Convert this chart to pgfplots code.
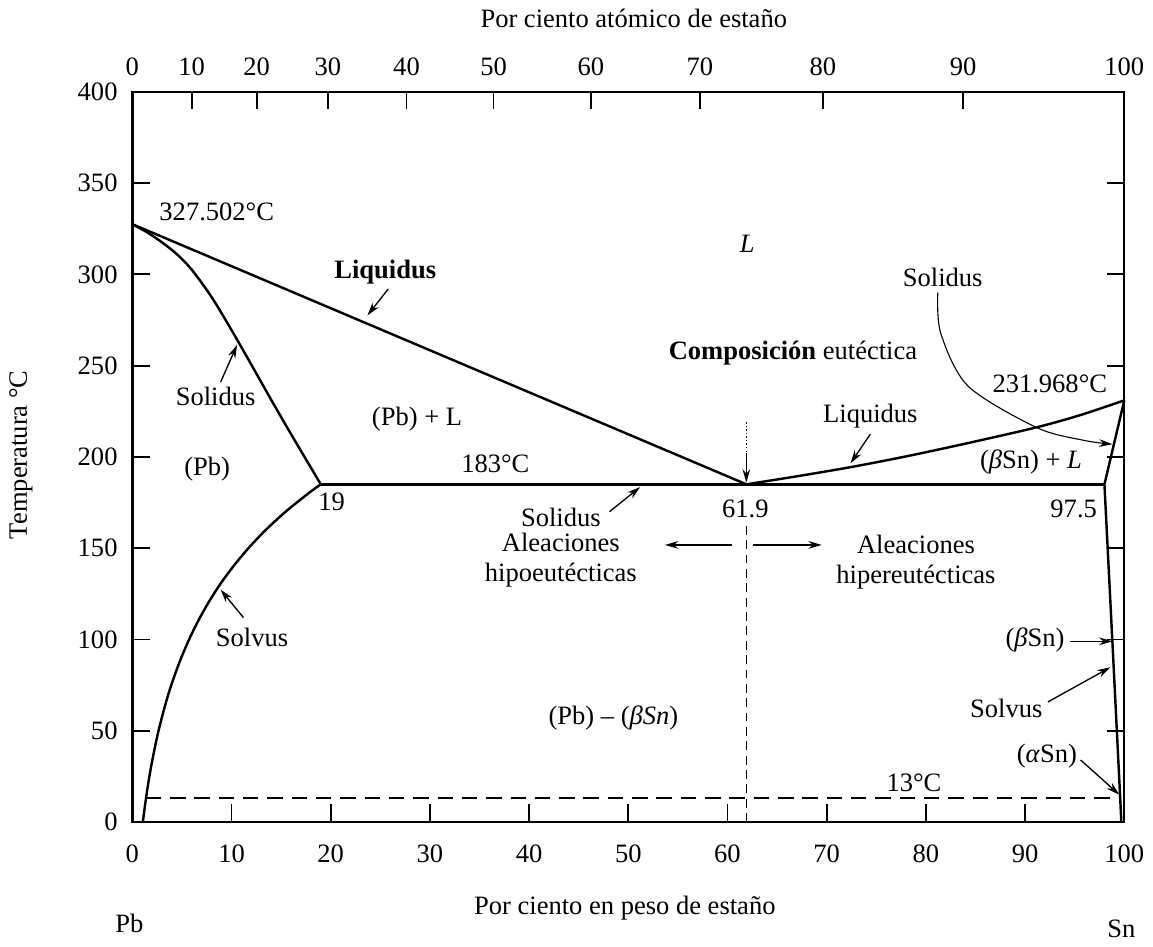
\documentclass[border=0pt,12pt]{standalone}
\usepackage{fontspec}
\setmainfont{Liberation Serif}
\usepackage{pgfplots}
\pgfplotsset{compat=1.18}
\usetikzlibrary{arrows.meta}

\begin{document}
\begin{tikzpicture}[>={Stealth[length=6pt,width=3.5pt]}]
\pgfplotsset{every axis/.append style={
  scale only axis, width=448.65pt, height=330.3pt,
  xmin=0, xmax=100, ymin=0, ymax=400,
  tick align=inside, major tick length=8pt,
  axis line style={line width=1.1pt},
  every tick/.style={black, line width=0.8pt},
  /pgf/number format/assume math mode=true}}

% top axis: atomic percent
\begin{axis}[
  xtick pos=right, xticklabel pos=right, ytick=\empty,
  xtick={0,5.985,12.53,19.71,27.64,36.42,46.22,57.21,69.62,83.76,100},
  xticklabels={0,10,20,30,40,50,60,70,80,90,100},
  xticklabel style={yshift=3pt}]
\end{axis}

% main axis: weight percent
\begin{axis}[
  clip=false,
  xtick={0,10,...,100}, ytick={0,50,...,400},
  xtick pos=left, ytick pos=both, yticklabel pos=left,
  xticklabel style={yshift=-6pt},
  yticklabel style={xshift=-2.5pt},
  xlabel={Por ciento en peso de estaño},
  ylabel={Temperatura °C},
  xlabel style={at={(axis description cs:0.4965,-0.1172)}, anchor=center},
  ylabel style={at={(axis description cs:-0.1123,0.503)}, anchor=center},
]
% bounding box
\path (rel axis cs:-0.1334,-0.1621) rectangle (rel axis cs:1.0231,1.1253);

% liquidus left
\addplot[line width=1.1pt] coordinates {(0,327.5) (61.9,185)};
% solidus left
\addplot[line width=1.1pt, smooth, tension=0.5] coordinates {(0,327.5) (1.5,323) (3,317.5) (4.5,311) (6,302.5) (8,287.5) (10,269.5) (12,250.5) (14,231.3) (16,212.5) (19,185)};
% solvus left
\addplot[line width=1.1pt, smooth, tension=0.5] coordinates {(1.06,0) (1.30,10) (1.57,20) (1.88,30) (2.24,40) (2.64,50) (3.11,60) (3.63,70) (4.24,80) (4.93,90) (5.72,100) (6.62,110) (7.65,120) (8.82,130) (10.17,140) (11.70,150) (13.45,160) (15.45,170) (17.74,180) (19,185)};
% eutectic line
\addplot[line width=1.1pt] coordinates {(19,185) (98,185)};
% liquidus right
\addplot[line width=1.1pt, smooth, tension=0.5] coordinates {(61.9,185) (67,189.4) (72.5,194.5) (78,200.3) (84,207.3) (91,216) (95.5,222.8) (100,231)};
% solidus right
\addplot[line width=1.1pt] coordinates {(98,185) (100,231)};
% solvus right
\addplot[line width=1.1pt] coordinates {(98,185) (98.8,99) (99.6,12) (99.7,0)};
% 13 C dashed
\addplot[line width=1pt, dash pattern=on 7pt off 4pt] coordinates {(1.35,13) (99.6,13)};
% eutectic composition vertical
\addplot[line width=0.6pt, dash pattern=on 4pt off 2.5pt] coordinates {(61.9,0) (61.9,162)};
\addplot[line width=0.6pt, densely dotted] coordinates {(61.9,219) (61.9,201)};
\draw[->, line width=0.6pt] (axis cs:61.9,202) -- (axis cs:61.9,186);

% labels
\node[anchor=west] at (axis cs:1.8,334) {327.502°C};
\node at (axis cs:25.5,301) {\textbf{Liquidus}};
\draw[->, line width=0.6pt] (axis cs:25.8,292) -- (axis cs:23.7,277.5);
\node at (axis cs:8.4,233.3) {Solidus};
\draw[->, line width=0.6pt] (axis cs:8.9,241) -- (axis cs:10.56,261.4);
\node at (axis cs:7.55,193.5) {(Pb)};
\node at (axis cs:28.7,220.6) {(Pb) + L};
\node at (axis cs:36.6,196) {183°C};
\node at (axis cs:20.1,175.4) {19};
\node at (axis cs:43.2,167) {Solidus};
\draw[->, line width=0.6pt] (axis cs:48.1,170) -- (axis cs:51.2,183.5);
\node[align=center, inner sep=0pt] at (axis cs:43.2,143.5) {Aleaciones\\[-1pt]hipoeutécticas};
\draw[->, line width=0.6pt] (axis cs:60.5,151.8) -- (axis cs:53.7,151.8);
\draw[->, line width=0.6pt] (axis cs:62.6,151.8) -- (axis cs:69.5,151.8);
\node[align=center, inner sep=0pt] at (axis cs:79,142.5) {Aleaciones\\[-1pt]hipereutécticas};
\node at (axis cs:61.8,171.7) {61.9};
\node at (axis cs:94.9,171.7) {97.5};
\node at (axis cs:66.6,257) {\textbf{Composición} eutéctica};
\node[anchor=east] at (axis cs:99.2,240) {231.968°C};
\node at (axis cs:74.4,222.5) {Liquidus};
\draw[->, line width=0.6pt] (axis cs:74.4,212.5) -- (axis cs:72.4,196.5);
\node at (axis cs:90.6,197) {(\textit{β}Sn) + \textit{L}};
\node at (axis cs:81.7,298.5) {Solidus};
\draw[->, line width=0.5pt] plot[smooth] coordinates {(axis cs:81.2,290) (axis cs:81.5,267.7) (axis cs:84.25,238.8) (axis cs:91.2,216) (axis cs:96,209) (axis cs:98.8,207)};
\node at (axis cs:62,316.7) {\textit{L}};
\node at (axis cs:12.07,101) {Solvus};
\draw[->, line width=0.6pt] (axis cs:11.2,112) -- (axis cs:8.9,127.3);
\node at (axis cs:48.5,57) {(Pb) – (\textit{βSn})};
\node at (axis cs:78.8,21.4) {13°C};
\node at (axis cs:91.0,99.5) {(\textit{β}Sn)};
\draw[->, line width=0.6pt] (axis cs:94.5,99) -- (axis cs:98.8,99);
\node at (axis cs:88.1,62) {Solvus};
\draw[->, line width=0.6pt] (axis cs:92.3,65.8) -- (axis cs:98.6,84.8);
\node at (axis cs:92.2,35.9) {(\textit{α}Sn)};
\draw[->, line width=0.6pt] (axis cs:95.6,34) -- (axis cs:99.5,15);

\node at (axis description cs:0.5055,1.1008) {Por ciento atómico de estaño};
\node at (axis description cs:-0.003,-0.139) {Pb};
\node at (axis description cs:0.997,-0.1458) {Sn};
\end{axis}
\end{tikzpicture}
\end{document}
